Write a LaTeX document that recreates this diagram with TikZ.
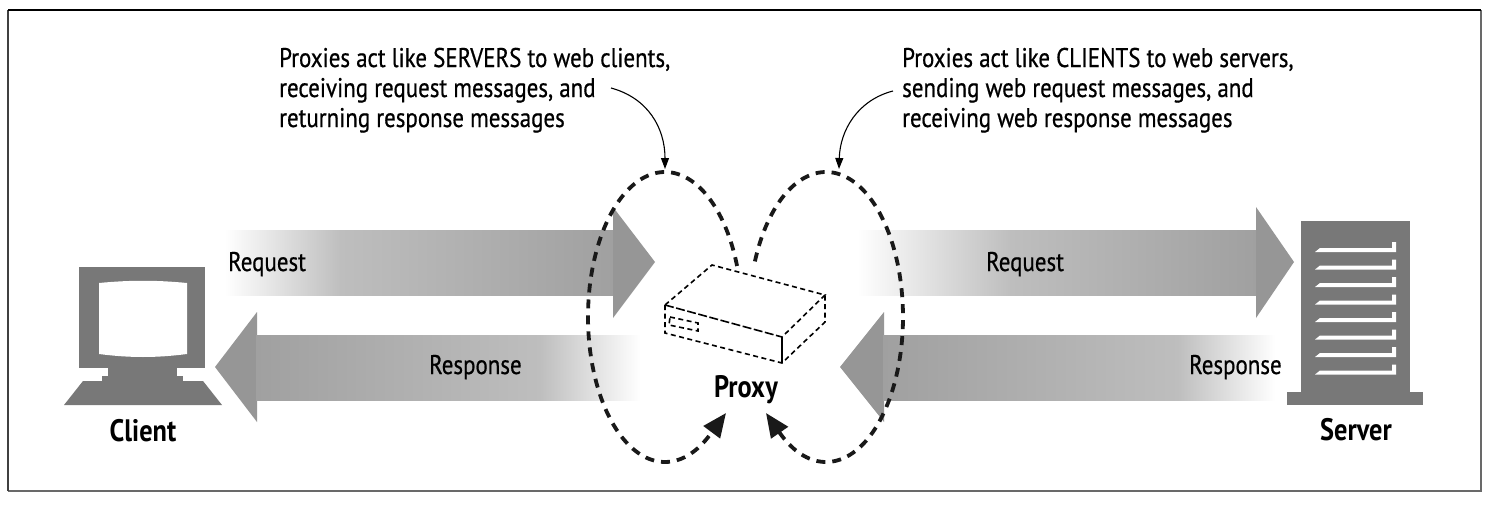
\documentclass[tikz,border=0pt]{standalone}
\usepackage{fontspec}
\setmainfont{PT Sans}[FakeStretch=0.85, UprightFeatures={FakeBold=0.6}]
\usetikzlibrary{arrows.meta}
\definecolor{devgray}{RGB}{120,120,120}
\definecolor{agA}{RGB}{190,190,190}
\definecolor{agB}{RGB}{160,160,160}
\definecolor{agH}{RGB}{150,150,150}
\definecolor{framegray}{RGB}{105,105,105}
\begin{document}
\begin{tikzpicture}[x=1pt,y=-1pt,
  txt/.style={font=\fontsize{27}{32}\selectfont, inner sep=0pt, anchor=base west},
  lbl/.style={font=\bfseries\fontsize{31}{36}\selectfont, inner sep=0pt, anchor=base},
  loopline/.style={line width=3.8pt, dash pattern=on 9pt off 7pt, black!90},
  boxline/.style={line width=1.6pt, dash pattern=on 5pt off 3.5pt},
  note/.style={line width=1.1pt, -{Triangle[length=11pt,width=8pt]}},
  bigtip/.style={line width=3.8pt, black!90, -{Triangle[length=24pt,width=20pt]}}]
\useasboundingbox (0,0) rectangle (1492,506);
\fill[white] (0,0) rectangle (1492,506);
% frame
\draw[framegray, line width=2.2pt] (1481,10) -- (1481,491) -- (8,491);
\draw[black!75, line width=1.6pt] (8,491) -- (8,10);
\draw[black, line width=1.4pt] (8,10) -- (1481,10);

% ---------- arrows ----------
% left request
\shade[left color=white, right color=agA] (225,230) rectangle (341,295);
\shade[left color=agA, right color=agB] (340,230) rectangle (614,295);
\fill[agH] (613,207) -- (655,262) -- (613,318) -- cycle;
% right request
\shade[left color=white, right color=agA] (857,230) rectangle (1011,295);
\shade[left color=agA, right color=agB] (1010,230) rectangle (1257,295);
\fill[agH] (1256,207) -- (1294,262) -- (1256,318) -- cycle;
% left response
\fill[agH] (257,312) -- (215,367) -- (257,422) -- cycle;
\shade[left color=agB, right color=agA] (256,335) rectangle (541,400);
\shade[left color=agA, right color=white] (540,335) rectangle (640,400);
% right response
\fill[agH] (884,312) -- (840,367) -- (884,422) -- cycle;
\shade[left color=agB, right color=agA] (883,335) rectangle (1179,400);
\shade[left color=agA, right color=white] (1178,335) rectangle (1275,400);

% arrow labels
\node[txt] (reqL) at (228,271) {Request};
\node[txt] (resL) at (429,374) {Response};
\node[txt] (reqR) at (986,271) {Request};
\node[txt] (resR) at (1189,374) {Response};

% ---------- client ----------
\fill[devgray] (79,267) rectangle (205,368);
\fill[white] (99,283) .. controls (130,280) and (156,280) .. (187,283) -- (187,354)
   .. controls (156,358) and (130,358) .. (99,354) -- cycle;
\fill[devgray] (108,367) rectangle (177,377);
\fill[devgray] (102,376) rectangle (183,382);
\fill[devgray] (83,381) -- (203,381) -- (222,405) -- (64,405) -- cycle;
\node[lbl] (client) at (143,441) {Client};

% ---------- server ----------
\fill[devgray] (1301,221) rectangle (1410,393);
\fill[devgray] (1287,392) rectangle (1423,405);
\foreach \y in {252,269.5,287,304.5,322,339.5,357,374.5}{
  \fill[white] (1315,\y) -- (1396,\y) -- (1396,\y-10) -- (1392,\y-10) -- (1392,\y-4) -- (1320,\y-4) -- cycle;
}
\node[lbl] (server) at (1356,440) {Server};

% ---------- proxy ----------
\coordinate (pA) at (712,265);
\coordinate (pB) at (665,305);
\coordinate (pC) at (782,337);
\coordinate (pD) at (825,295);
\coordinate (pBb) at (665,333);
\coordinate (pCb) at (782,363);
\coordinate (pDb) at (825,322);
\draw[boxline] (pB) -- (pA) -- (pD) -- (pC);
\draw[boxline, dash pattern=on 9pt off 2.5pt] (pB) -- (pC);
\draw[line width=1.6pt] (pC) -- (pCb);
\draw[boxline] (pB) -- (pBb) -- (pCb) -- (pDb) -- (pD);
\draw[boxline] (670,317) -- (698,323) -- (698,331) -- (669,325) -- cycle;
\node[lbl] (proxy) at (746,397) {Proxy};

% ---------- dashed loops ----------
\draw[loopline] plot[domain=20.6:307.6, samples=140, variable=\t] ({665+77*cos(\t)},{317-145*sin(\t)});
\coordinate (lend) at ({665+77*cos(307.6)},{317-145*sin(307.6)});
\coordinate (ltip) at (726,413);
\draw[bigtip] (lend) -- (ltip);
\draw[loopline] plot[domain=-127.4:160, samples=140, variable=\t] ({826+77*cos(\t)},{317-145*sin(\t)});
\coordinate (rend) at ({826+77*cos(-127.4)},{317-145*sin(-127.4)});
\coordinate (rtip) at (766,413);
\draw[bigtip] (rend) -- (rtip);

% ---------- annotations ----------
\node[txt] (t1a) at (279,67) {Proxies act like SERVERS to web clients,};
\node[txt] (t1b) at (279,97) {receiving request messages, and};
\node[txt] (t1c) at (279,127) {returning response messages};
\node[txt] (t2a) at (902,67) {Proxies act like CLIENTS to web servers,};
\node[txt] (t2b) at (902,97) {sending web request messages, and};
\node[txt] (t2c) at (902,127) {receiving web response messages};
\coordinate (n1s) at (611,88);
\coordinate (n1e) at (665,169);
\coordinate (n2s) at (893,91);
\coordinate (n2e) at (839,169);
\draw[note] (n1s) .. controls (648,98) and (665,128) .. (n1e);
\draw[note] (n2s) .. controls (858,100) and (840,130) .. (n2e);
\end{tikzpicture}
\end{document}
